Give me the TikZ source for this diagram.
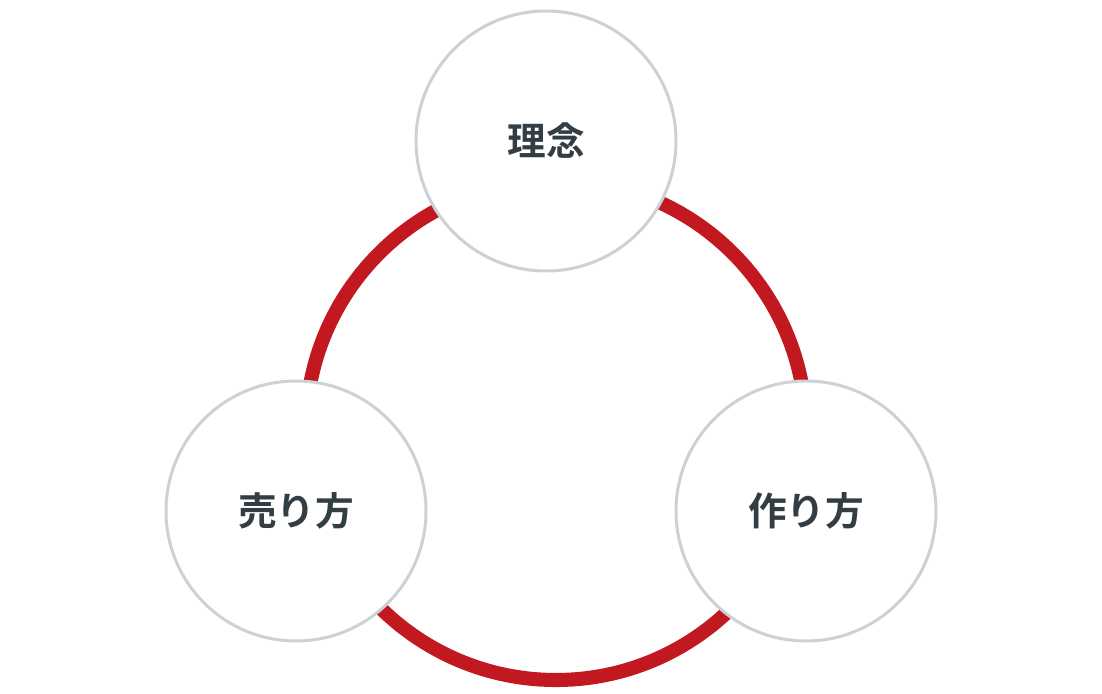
\documentclass[tikz,border=0pt]{standalone}
\usepackage{fontspec}
\newfontfamily\jpfont{Noto Sans CJK JP Bold}
\usetikzlibrary{positioning}
\definecolor{ringred}{HTML}{C1191F}
\definecolor{edgegray}{HTML}{CBD1D7}
\definecolor{textgray}{HTML}{333D44}
\tikzset{
  topic/.style={draw=edgegray, line width=1.7pt, fill=white, circle, minimum size=5.2cm,
    font=\jpfont\fontsize{22}{26}\selectfont, text=textgray}
}
\begin{document}
\begin{tikzpicture}
      \useasboundingbox (0,0) rectangle (22.04,13.88);
      % Ring behind the circles
      \coordinate (hub) at (11.12,5.28);
      \draw[ringred, line width=8pt] (hub) circle (5.0cm);

      % Three topics
      \node[topic] (rinen) at (10.92,11.06) {理念};
      \node[topic] (urikata) at (5.92,3.66) {売り方};
      \node[topic] (tsukurikata) at (16.12,3.66) {作り方};
\end{tikzpicture}
\end{document}
